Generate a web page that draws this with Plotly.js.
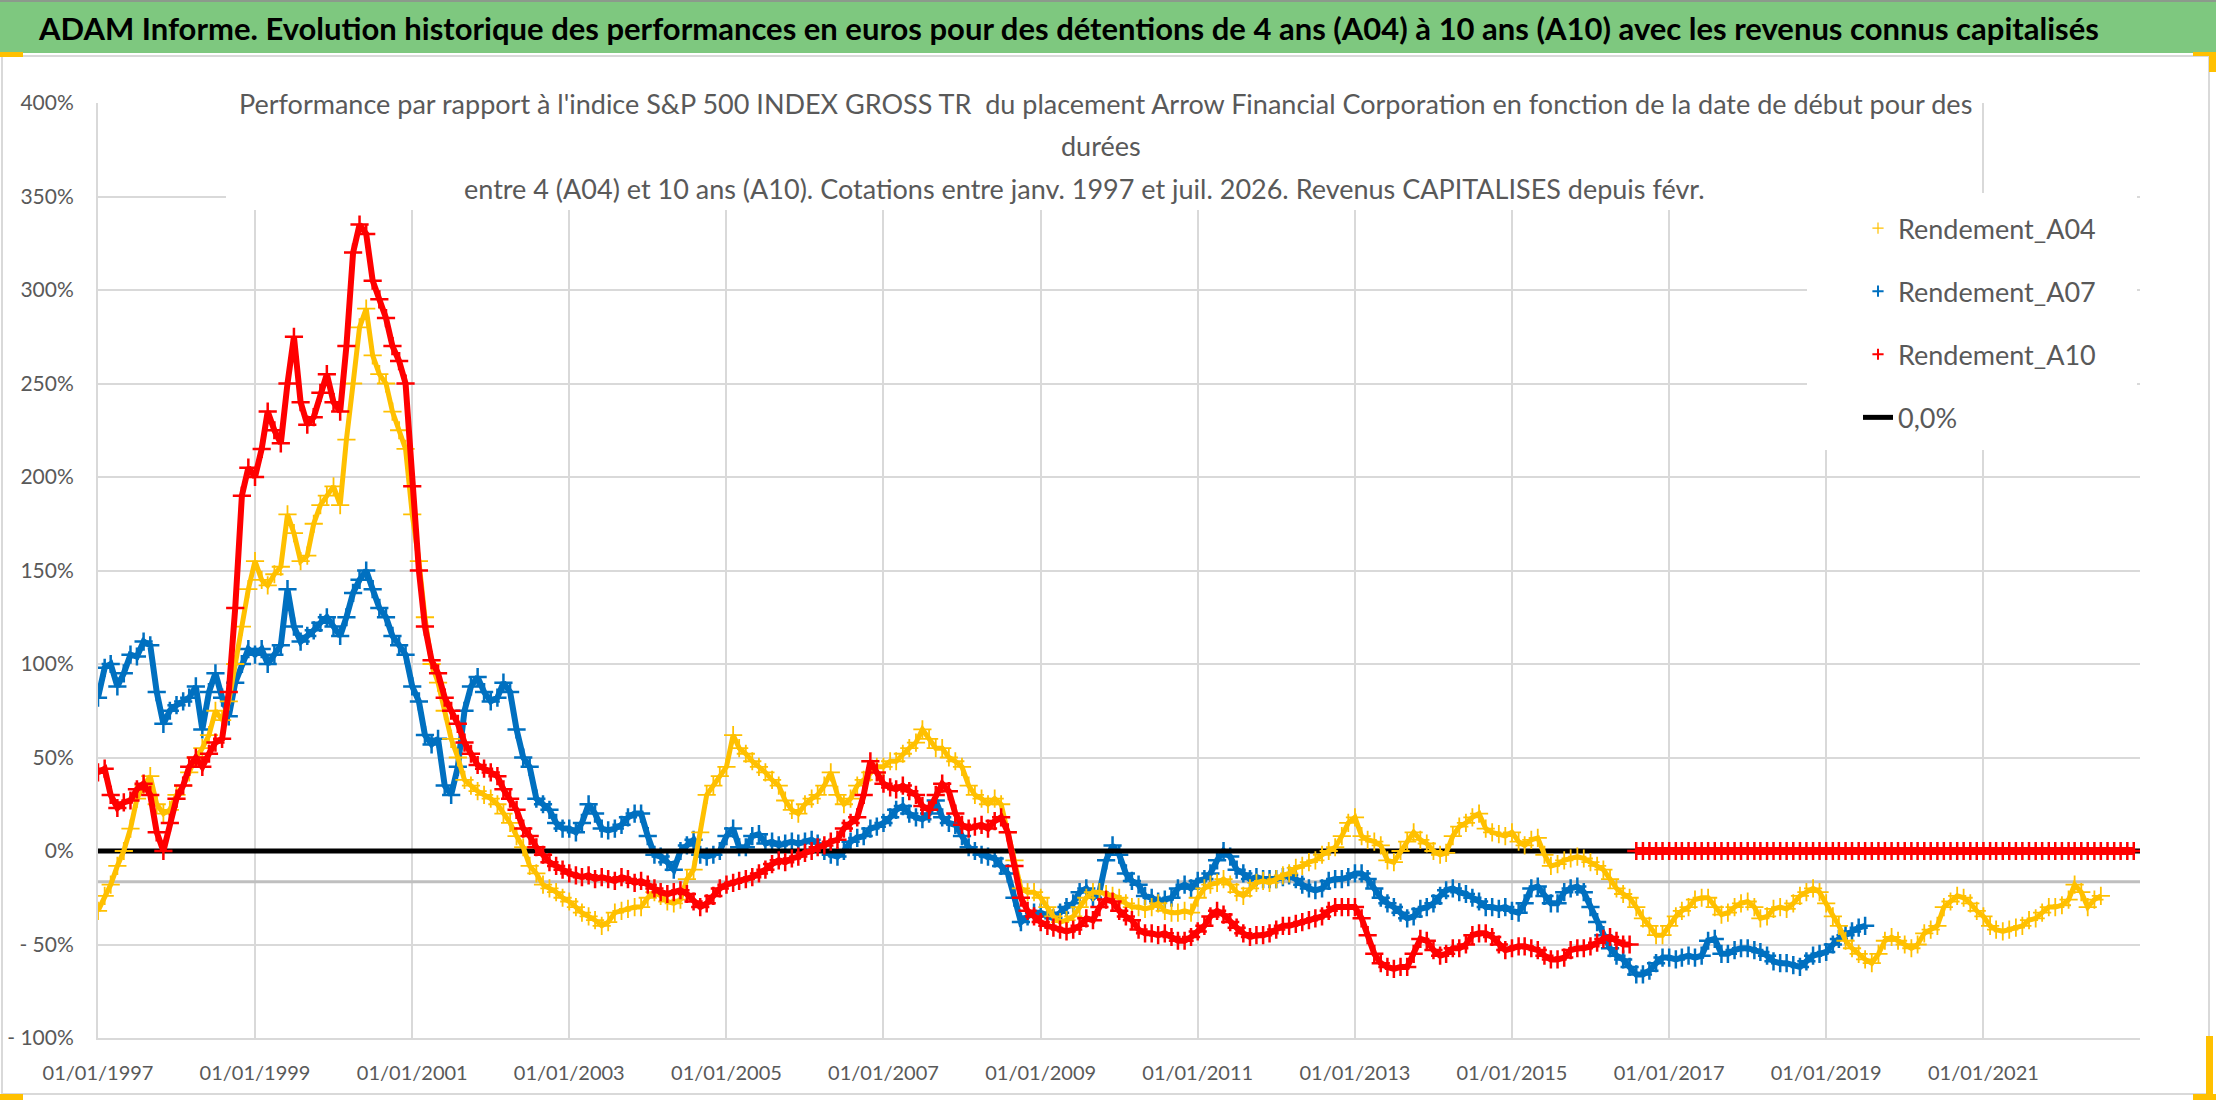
<!DOCTYPE html>
<html><head><meta charset="utf-8">
<script src="https://cdn.plot.ly/plotly-3.0.1.min.js"></script>
<style>html,body{margin:0;padding:0;background:#fff;}#chart{width:2216px;height:1102px;}</style>
</head><body><div id="chart"></div>
<script>
// ---------- DATA (monthly readings, % ) ----------
const seriesNames = ['Rendement_A04', 'Rendement_A07', 'Rendement_A10', '0,0%'];
const startA04 = '1997-01';
const rendementA04 = [
 -32,-24,-18,-8,0,12,28,35,40,25,20,22,
 30,35,42,50,55,62,75,70,80,100,120,140,
 155,145,142,148,152,180,170,155,158,175,185,190,
 195,185,220,250,280,290,265,255,250,235,225,215,
 180,155,125,100,90,75,60,50,38,35,32,30,
 28,25,20,15,8,2,-8,-12,-18,-20,-22,-25,
 -27,-30,-33,-35,-37,-40,-38,-33,-32,-31,-30,-30,
 -25,-22,-24,-27,-28,-26,-15,-10,10,30,35,40,
 45,62,55,52,48,45,42,38,35,27,22,20,
 25,28,30,35,42,30,25,28,35,38,42,45,
 45,48,48,52,55,58,65,60,55,55,50,48,
 45,35,30,28,25,28,25,10,-5,-20,-22,-22,
 -25,-30,-35,-38,-37,-35,-30,-25,-22,-22,-23,-24,
 -25,-28,-30,-30,-31,-30,-28,-32,-33,-33,-32,-33,
 -25,-20,-18,-17,-15,-18,-22,-24,-20,-17,-16,-17,
 -15,-13,-12,-9,-8,-6,-5,-2,0,2,8,15,
 18,8,6,5,3,-5,-6,0,5,10,6,4,
 0,-2,-1,8,13,15,18,20,12,10,9,8,
 10,5,3,6,7,-2,-8,-7,-5,-4,-3,-4,
 -6,-8,-10,-15,-20,-23,-25,-30,-36,-40,-45,-45,
 -40,-35,-32,-30,-26,-25,-25,-30,-34,-33,-30,-28,
 -27,-30,-36,-35,-31,-30,-31,-28,-24,-22,-20,-22,
 -28,-35,-40,-48,-52,-55,-58,-60,-55,-48,-46,-48,
 -50,-52,-50,-44,-42,-40,-30,-27,-24,-25,-28,-32,
 -35,-40,-42,-43,-42,-41,-40,-37,-36,-33,-30,-30,
 -29,-26,-18,-22,-30,-26,-24
];
const startA07 = '1997-01';
const rendementA07 = [
 82,98,100,88,95,105,104,112,110,85,68,75,
 78,80,82,88,65,85,95,82,72,90,100,108,
 105,108,100,105,110,140,120,112,115,118,122,125,
 120,115,125,138,145,150,140,130,125,115,110,105,
 88,80,62,57,60,35,30,45,75,88,93,85,
 80,82,90,85,65,50,45,28,25,22,15,12,
 12,10,15,25,20,12,11,12,14,18,20,20,
 8,-2,-3,-6,-10,0,3,6,-2,-3,-2,0,
 8,12,2,2,8,9,4,5,3,4,5,4,
 5,6,4,0,-2,-3,0,5,7,8,12,13,
 15,18,22,24,20,18,17,20,27,18,15,14,
 8,2,0,-2,-3,-4,-8,-12,-25,-38,-35,-33,
 -33,-35,-36,-33,-30,-28,-22,-20,-25,-22,-5,3,
 -2,-12,-16,-18,-24,-25,-27,-26,-25,-20,-18,-20,
 -16,-15,-12,-5,0,-3,-10,-12,-15,-14,-15,-15,
 -15,-14,-13,-15,-18,-20,-21,-20,-16,-15,-15,-14,
 -12,-12,-15,-20,-25,-28,-30,-33,-36,-35,-31,-30,
 -28,-24,-21,-20,-22,-23,-25,-27,-30,-30,-31,-30,
 -32,-33,-28,-20,-19,-24,-28,-28,-22,-20,-19,-22,
 -30,-38,-45,-52,-56,-58,-62,-66,-66,-64,-60,-57,
 -57,-58,-57,-56,-57,-56,-48,-47,-55,-55,-53,-52,
 -52,-53,-54,-56,-59,-60,-60,-61,-62,-59,-56,-55,
 -54,-50,-47,-45,-43,-41,-40
];
const startA10 = '1997-01';
const rendementA10 = [
 42,44,30,23,26,27,33,36,30,10,0,15,
 28,35,45,50,45,52,58,60,85,130,190,205,
 200,215,235,225,218,250,275,240,228,232,245,255,
 240,235,270,320,335,330,305,295,285,270,262,250,
 195,150,120,102,95,82,75,68,58,52,46,44,
 42,40,33,28,22,12,8,2,-2,-6,-8,-10,
 -12,-13,-14,-13,-15,-14,-15,-16,-14,-15,-17,-16,
 -18,-20,-22,-23,-22,-21,-23,-27,-30,-28,-24,-20,
 -18,-17,-16,-15,-14,-12,-10,-7,-5,-6,-4,-3,
 -1,0,2,3,5,6,12,15,18,30,48,42,
 36,34,33,35,32,30,24,22,30,36,32,20,
 14,12,13,14,12,16,18,10,-8,-25,-32,-35,
 -38,-40,-41,-42,-43,-42,-40,-36,-37,-30,-26,-27,
 -32,-35,-37,-42,-44,-44,-45,-44,-46,-48,-48,-46,
 -43,-40,-35,-32,-34,-38,-41,-44,-46,-45,-45,-44,
 -42,-40,-40,-39,-38,-37,-36,-35,-32,-30,-30,-30,
 -30,-36,-45,-55,-60,-62,-63,-62,-62,-55,-47,-48,
 -53,-56,-55,-52,-52,-50,-45,-44,-44,-46,-50,-53,
 -52,-51,-51,-52,-53,-56,-58,-58,-57,-53,-52,-52,
 -51,-49,-47,-46,-48,-50,-50
];
// A10 after the end of its 10-year window: plotted at 0
const startA10Tail = '2016-08';
const rendementA10Tail = [
 0,0,0,0,0,
 0,0,0,0,0,0,0,0,0,0,0,0,
 0,0,0,0,0,0,0,0,0,0,0,0,
 0,0,0,0,0,0,0,0,0,0,0,0,
 0,0,0,0,0,0,0,0,0,0,0,0,
 0,0,0,0,0,0,0,0,0,0,0,0,
 0,0,0,0,0,0,0,0,0,0,0,0
];
const zeroLineX = ['1997-01-01', '2023-01-01'];
const zeroLineY = [0, 0];
const axisCrossX = ['1997-01-01', '2023-01-01'];
const axisCrossY = [-16.4, -16.4];
const yTickVals = [-100, -50, 0, 50, 100, 150, 200, 250, 300, 350, 400];
const yTickText = ['- 100%', '- 50%', '0%', '50%', '100%', '150%', '200%', '250%', '300%', '350%', '400%'];
const mainTitle = 'ADAM Informe. Evolution historique des performances en euros pour des détentions de 4 ans (A04) à 10 ans (A10) avec les revenus connus capitalisés';
const subTitleLines = [
 "Performance par rapport à l'indice S&P 500 INDEX GROSS TR  du placement Arrow Financial Corporation en fonction de la date de début pour des",
 'durées',
 'entre 4 (A04) et 10 ans (A10). Cotations entre janv. 1997 et juil. 2026. Revenus CAPITALISES depuis févr.'
];

// ---------- helpers ----------
function monthDates(start, n) {
  let [y, m] = start.split('-').map(Number);
  const out = [];
  for (let i = 0; i < n; i++) {
    out.push(y + '-' + String(m).padStart(2, '0') + '-01');
    m++; if (m > 12) { m = 1; y++; }
  }
  return out;
}
const W = 2216, H = 1102, ML = 98, MR = 76, MT = 103, MB = 64;
const PW = W - ML - MR, PH = H - MT - MB;
const px = x => (x - ML) / PW;
const py = y => (H - MB - y) / PH;

const COL = { a04: '#ffc000', a07: '#0070c0', a10: '#ff0000' };
const FONT = 'Lato, "Open Sans", sans-serif';
const GREY = '#595959';

function series(start, vals, color, lw, bw) {
  const x = monthDates(start, vals.length);
  return [
    { type: 'scatter', mode: 'lines', x: x, y: vals, showlegend: false, hoverinfo: 'skip',
      line: { color: color, width: bw } },
    { type: 'scatter', mode: 'markers', x: x, y: vals, showlegend: false,
      marker: { symbol: 'cross-thin', size: 13, color: color, line: { color: color, width: lw } } }
  ];
}

const traces = [];
traces.push({ type: 'scatter', mode: 'lines', x: axisCrossX, y: axisCrossY, showlegend: false,
  hoverinfo: 'skip', line: { color: '#bfbfbf', width: 3 } });
traces.push(...series(startA07, rendementA07, COL.a07, 2.5, 6));
traces.push({ type: 'scatter', mode: 'lines', x: zeroLineX, y: zeroLineY, showlegend: false,
  line: { color: '#000000', width: 5 } });
traces.push(...series(startA04, rendementA04, COL.a04, 1.8, 5));
traces.push(...series(startA10, rendementA10, COL.a10, 2.5, 6));
traces.push(...series(startA10Tail, rendementA10Tail, COL.a10, 2.5, 8));
// legend entries
const legCols = [COL.a04, COL.a07, COL.a10];
for (let i = 0; i < 3; i++) {
  traces.push({ type: 'scatter', mode: 'markers', x: [null], y: [null], name: seriesNames[i],
    legendgroup: 'g' + i, showlegend: true,
    marker: { symbol: 'cross-thin', size: 8, color: legCols[i], line: { color: legCols[i], width: i === 0 ? 1.2 : 2 } } });
}
traces.push({ type: 'scatter', mode: 'lines', x: [null], y: [null], name: seriesNames[3],
  legendgroup: 'g3', showlegend: true, line: { color: '#000000', width: 5 } });

const rect = (x0, y0, x1, y1, fill, line, lw) => ({
  type: 'rect', xref: 'paper', yref: 'paper', x0: px(x0), x1: px(x1), y0: py(y1), y1: py(y0),
  fillcolor: fill || 'rgba(0,0,0,0)', line: { color: line || 'rgba(0,0,0,0)', width: lw || 0 }, layer: 'above' });

const shapes = [
  rect(0, 0, W, 53, '#7ec87f'),
  rect(0, 0, W, 2, '#8c9a8c'),
  rect(2, 56, 2209, 1094, null, '#d9d9d9', 2),
  rect(226, 86, 1977, 210, '#ffffff'),
  rect(1807, 193, 2137, 450, '#ffffff'),
  rect(0, 52, 23, 57, '#ffc000'),
  rect(2193, 52, 2216, 56, '#ffc000'),
  rect(2209, 52, 2216, 72, '#ffc000'),
  rect(0, 1094, 23, 1100, '#ffc000'),
  rect(2206, 1036, 2213, 1100, '#ffc000'),
  rect(2193, 1094, 2216, 1100, '#ffc000')
];

const annotations = [
  { xref: 'paper', yref: 'paper', x: px(1068), y: py(28), xanchor: 'center', yanchor: 'middle',
    text: mainTitle, showarrow: false, font: { family: FONT, size: 31, color: '#000', weight: 700 } },
  { xref: 'paper', yref: 'paper', x: px(1105), y: py(103), xanchor: 'center', yanchor: 'middle',
    text: subTitleLines[0], showarrow: false, font: { family: FONT, size: 27, color: GREY } },
  { xref: 'paper', yref: 'paper', x: px(1101), y: py(145), xanchor: 'center', yanchor: 'middle',
    text: subTitleLines[1], showarrow: false, font: { family: FONT, size: 27, color: GREY } },
  { xref: 'paper', yref: 'paper', x: px(1084), y: py(188), xanchor: 'center', yanchor: 'middle',
    text: subTitleLines[2], showarrow: false, font: { family: FONT, size: 27, color: GREY } }
];

const layout = {
  width: W, height: H,
  margin: { l: ML, r: MR, t: MT, b: MB, pad: 0 },
  paper_bgcolor: '#ffffff', plot_bgcolor: '#ffffff',
  font: { family: FONT, color: GREY },
  showlegend: true,
  legend: { x: px(1858), y: py(204), xanchor: 'left', yanchor: 'top', bgcolor: 'rgba(0,0,0,0)',
    font: { family: FONT, size: 27, color: GREY }, traceorder: 'grouped', tracegroupgap: 25 },
  xaxis: { type: 'date', range: ['1997-01-01', '2022-12-30'], tick0: '1997-01-01', dtick: 'M24',
    tickformat: '%d/%m/%Y', showgrid: true, gridcolor: '#d9d9d9', gridwidth: 2,
    showline: true, linecolor: '#d9d9d9', linewidth: 2, zeroline: false, ticks: '',
    ticklabelstandoff: 16, tickfont: { family: FONT, size: 20, color: GREY } },
  yaxis: { range: [-100, 400], tickmode: 'array', tickvals: yTickVals, ticktext: yTickText,
    showgrid: true, gridcolor: '#d9d9d9', gridwidth: 2, zeroline: false,
    showline: true, linecolor: '#d9d9d9', linewidth: 2, ticks: '',
    ticklabelstandoff: 18, tickfont: { family: FONT, size: 21, color: GREY } },
  shapes: shapes,
  annotations: annotations
};

Plotly.newPlot('chart', traces, layout, { displayModeBar: false, staticPlot: true });
</script>
</body></html>
